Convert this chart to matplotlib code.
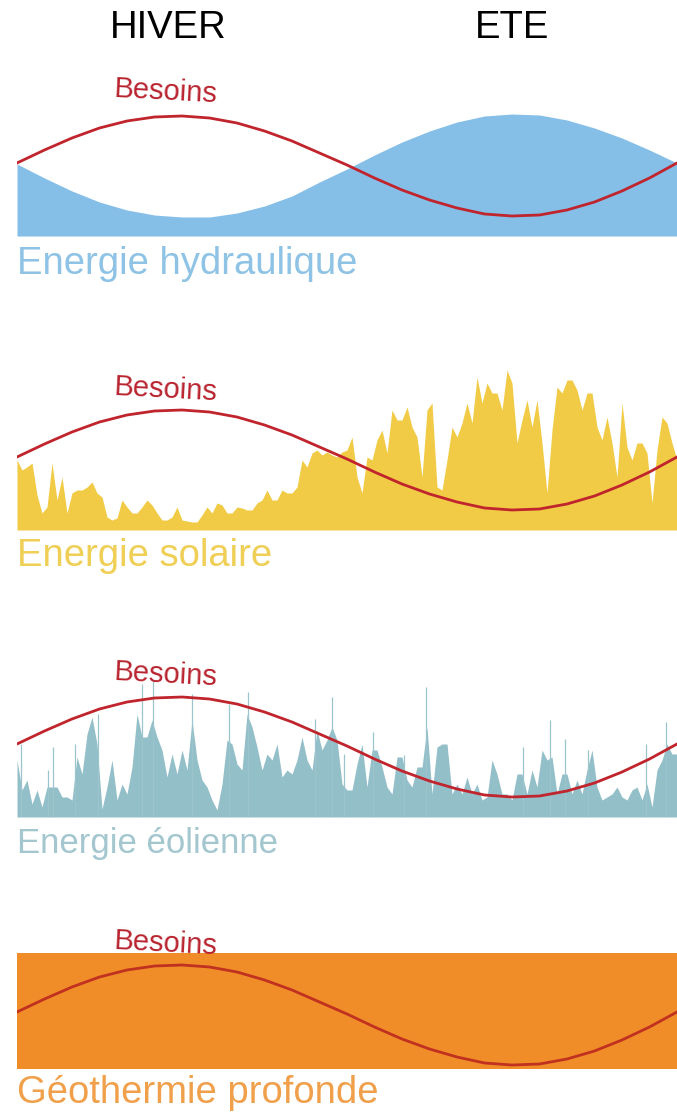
import numpy as np
import matplotlib
matplotlib.use("Agg")
import matplotlib.pyplot as plt
from matplotlib import font_manager

W, H = 677, 1116

# Besoins (demand) curve, height above baseline, 25 points over the year
besoins = [73, 86, 98, 108, 115, 119, 120, 118, 113, 105, 95, 83, 71,
           58, 46, 36, 28, 22, 20, 21, 26, 34, 45, 58, 73]

# Hydraulic production, 25 points over the year
hydro = [72, 58, 45, 34, 26, 21, 19, 19, 23, 30, 40, 54, 67,
         81, 94, 105, 114, 120, 122, 121, 116, 108, 98, 86, 73]

# Solar production, 133 points over the year
solaire = [70, 60, 63, 67, 35, 17, 23, 67, 30, 53, 17, 37, 40, 40, 43, 48,
           37, 33, 13, 10, 12, 30, 23, 17, 17, 23, 30, 25, 17, 10, 10, 13,
           23, 10, 9, 8, 8, 15, 23, 17, 27, 25, 17, 17, 23, 22, 20, 20,
           27, 30, 40, 30, 30, 40, 37, 37, 43, 70, 63, 77, 80, 75, 78, 75,
           73,
           78, 80, 93, 53, 37, 73, 70, 90, 100, 77, 120, 110, 110, 123, 103,
           93, 53, 120, 127, 43, 40, 70, 103, 93, 107, 127, 107, 153, 127,
           147, 137, 137, 120, 160, 147, 87, 110, 130, 103, 130, 87, 37,
           100, 143, 137, 150, 150, 140, 120, 137, 137, 103, 90, 113, 87,
           53, 127, 83, 70, 87, 87, 77, 27, 80, 113, 107, 87, 70]

# Wind production, 133 points over the year
eolien = [57, 27, 37, 13, 27, 10, 30, 30, 30, 20, 20, 17, 60, 43, 83, 100,
          73, 8, 30, 57, 17, 33, 23, 50, 103, 80, 80, 97, 80, 67, 40, 63,
          43, 67, 47, 97, 57, 37, 30, 17, 7, 33, 77, 73, 53, 47, 103, 90,
          70, 47, 63, 57, 73, 40, 47, 43, 57, 80, 57, 47, 87, 67, 77, 90,
          77,
          33, 27, 27, 53, 73, 30, 67, 67, 50, 30, 23, 60, 60, 37, 30, 50,
          50, 90, 23, 70, 73, 73, 23, 33, 23, 40, 23, 33, 17, 20, 57, 43,
          23, 23, 17, 43, 43, 23, 47, 30, 67, 57, 60, 23, 43, 43, 23, 37,
          23, 47, 67, 30, 17, 20, 23, 30, 20, 17, 27, 30, 17, 33, 10, 47,
          57, 73, 63, 63]

# Thin wind gusts: day of year and height
rafale_jour = [2, 17, 20, 32, 45, 69, 75, 97, 117, 128, 165, 174,
               181, 197, 214, 226, 280, 295, 303, 316, 348, 359]
rafale_h = [73, 47, 70, 73, 103, 133, 137, 123, 113, 125, 98, 120,
            63, 85, 62, 130, 70, 97, 78, 67, 73, 95]

# Deep geothermal: constant level
geothermie = 132

saisons = ["HIVER", "ETE"]

RED = "#c0242c"
FONT = ["Liberation Sans", "DejaVu Sans"]

# narrow face for the wind label if there is one
noms = {f.name for f in font_manager.fontManager.ttflist}
if "Liberation Sans Narrow" in noms:
    NARROW, NARROW_SIZE = ["Liberation Sans Narrow"] + FONT, 27.5
else:
    NARROW, NARROW_SIZE = FONT, 25

jours25 = np.linspace(0, 365, len(besoins))
jours133 = np.linspace(0, 365, len(solaire))

fig = plt.figure(figsize=(W / 100, H / 100), dpi=100)


def panel(bottom_px, ylo, yhi):
    ax = fig.add_axes([17 / W, 1 - bottom_px / H, 660 / W, (yhi - ylo) / H])
    ax.set_xlim(0, 365)
    ax.set_ylim(ylo, yhi)
    ax.axis("off")
    return ax


def label(x, y, s, **kw):
    fig.text(x / W, 1 - y / H, s, **kw)


# Hydraulique
ax1 = panel(236, 0, 140)
ax1.fill_between(jours25, 0, hydro, color="#85bfe8", lw=0)
ax1.plot(jours25, besoins, color=RED, lw=2, zorder=3)

# Solaire
ax2 = panel(530, 0, 170)
ax2.fill_between(jours133, 0, solaire, color="#f1cb45", lw=0)
ax2.plot(jours25, besoins, color=RED, lw=2, zorder=3)

# Eolien
ax3 = panel(817, 0, 150)
ax3.fill_between(jours133, 0, eolien, color="#93bfc9", lw=0)
ax3.vlines(rafale_jour, 0, rafale_h, color="#9cc4cd", lw=0.9)
ax3.plot(jours25, besoins, color=RED, lw=2, zorder=3)

# Geothermie
ax4 = panel(1068, 17, 157)
ax4.fill_between([0, 365], 0, geothermie, color="#f18d29", lw=0)
ax4.plot(jours25, besoins, color="#c0311f", lw=2, zorder=3)

# Titles
label(168, 38, saisons[0], fontsize=27.5, ha="center", va="baseline",
      family=FONT, color="black")
label(512, 38, saisons[1], fontsize=27.5, ha="center", va="baseline",
      family=FONT, color="black")

for yc in [92, 390, 675, 944]:
    label(166, yc, "Besoins", fontsize=21, ha="center", va="center",
          family=FONT, color="#b8232e", rotation=-3)

label(17, 274, "Energie hydraulique", fontsize=27.5, ha="left",
      va="baseline", family=FONT, color="#8ec3e6")
label(17, 566, "Energie solaire", fontsize=27.5, ha="left",
      va="baseline", family=FONT, color="#efcf55")
label(17, 853, "Energie éolienne", fontsize=NARROW_SIZE, ha="left",
      va="baseline", family=NARROW, color="#a3c6cf")
label(17, 1103, "Géothermie profonde", fontsize=27.5, ha="left",
      va="baseline", family=FONT, color="#f0a04b")

fig.savefig("out.png", dpi=100)
